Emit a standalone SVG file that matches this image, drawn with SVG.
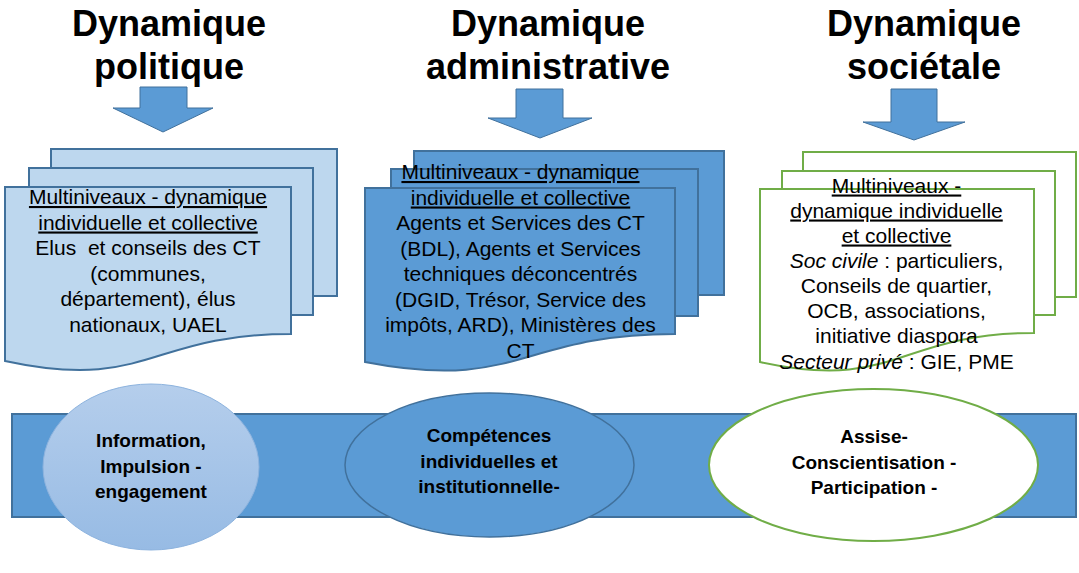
<svg xmlns="http://www.w3.org/2000/svg" width="1079" height="573" viewBox="0 0 1079 573">
<defs>
<linearGradient id="g1" x1="0" y1="0" x2="0" y2="1">
<stop offset="0" stop-color="#B5CEEC"/>
<stop offset="1" stop-color="#97BBE4"/>
</linearGradient>
<style>
.title{font-family:"Liberation Sans",Arial,sans-serif;font-weight:bold;font-size:36px;fill:#000;text-anchor:middle}
.doc{font-family:"Liberation Sans",Arial,sans-serif;font-size:21px;fill:#000;text-anchor:middle;white-space:pre}
.u{text-decoration:underline}
.ell{font-family:"Liberation Sans",Arial,sans-serif;font-weight:bold;font-size:19px;fill:#000;text-anchor:middle}
.blue1{fill:#BDD7EE;stroke:#41719C;stroke-width:2}
.blue2{fill:#5B9BD5;stroke:#41719C;stroke-width:2}
.green{fill:#FFFFFF;stroke:#70AD47;stroke-width:2}
.arrow{fill:#5B9BD5;stroke:#41719C;stroke-width:1}
</style>
</defs>
<rect width="1079" height="573" fill="#FFFFFF"/>

<g id="title-politique">
<text class="title" x="169" y="36">Dynamique</text>
<text class="title" x="169" y="79">politique</text>
</g>
<g id="title-administrative">
<text class="title" x="548" y="36">Dynamique</text>
<text class="title" x="548" y="79">administrative</text>
</g>
<g id="title-societale">
<text class="title" x="924" y="36">Dynamique</text>
<text class="title" x="924" y="79">sociétale</text>
</g>

<g id="connectors">
<polygon class="arrow" points="140,87 187,87 187,108 213,108 163,132 113,108 140,108"/>
<polygon class="arrow" points="516,89 563,89 563,118 592,118 540,138 488,118 516,118"/>
<polygon class="arrow" points="891,89 937,89 937,122 965,122 914,140 863,122 891,122"/>
</g>

<g id="doc-politique">
<rect class="blue1" x="51" y="149" width="286" height="147"/>
<rect class="blue1" x="29" y="168" width="284" height="147"/>
<path class="blue1" d="M5,187 H291 V334 C148,334 148,392 5,361 Z"/>
<text class="doc u" x="148" y="204">Multiniveaux - dynamique</text>
<text class="doc u" x="148" y="229.5">individuelle et collective</text>
<text class="doc" x="148" y="255">Elus  et conseils des CT</text>
<text class="doc" x="148" y="280.5">(communes,</text>
<text class="doc" x="148" y="306">département), élus</text>
<text class="doc" x="148" y="331.5">nationaux, UAEL</text>
</g>

<g id="doc-administrative">
<rect class="blue2" x="414" y="151" width="310" height="144"/>
<rect class="blue2" x="391" y="169" width="307" height="147"/>
<path class="blue2" d="M365,188 H675 V334 C520,334 520,392 365,362 Z"/>
<text class="doc u" x="520.5" y="179">Multiniveaux - dynamique</text>
<text class="doc u" x="520.5" y="204.5">individuelle et collective</text>
<text class="doc" x="520.5" y="230">Agents et Services des CT</text>
<text class="doc" x="520.5" y="255.5">(BDL), Agents et Services</text>
<text class="doc" x="520.5" y="281">techniques déconcentrés</text>
<text class="doc" x="520.5" y="306.5">(DGID, Trésor, Service des</text>
<text class="doc" x="520.5" y="332">impôts, ARD), Ministères des</text>
<text class="doc" x="520.5" y="357.5">CT</text>
</g>

<g id="doc-societale">
<rect class="green" x="803" y="152" width="273" height="145"/>
<rect class="green" x="782" y="171" width="273" height="144"/>
<path class="green" d="M760,189 H1034 V333 C897,333 897,392 760,362 Z"/>
<text class="doc u" x="896.5" y="192.5">Multiniveaux -</text>
<text class="doc u" x="896.5" y="217.5">dynamique individuelle</text>
<text class="doc u" x="896.5" y="242.5">et collective</text>
<text class="doc" x="896.5" y="268"><tspan font-style="italic">Soc civile</tspan> : particuliers,</text>
<text class="doc" x="896.5" y="293">Conseils de quartier,</text>
<text class="doc" x="896.5" y="318">OCB, associations,</text>
<text class="doc" x="896.5" y="343">initiative diaspora</text>
<text class="doc" x="896.5" y="368.5"><tspan font-style="italic">Secteur privé</tspan> : GIE, PME</text>
</g>

<g id="band">
<rect x="12" y="414" width="1064" height="103" fill="#5B9BD5" stroke="#41719C" stroke-width="2"/>
</g>

<g id="ellipse-information">
<ellipse cx="151" cy="467" rx="108" ry="83" fill="url(#g1)" stroke="#8DB3DE" stroke-width="1"/>
<text class="ell" x="151" y="447">Information,</text>
<text class="ell" x="151" y="472.5">Impulsion -</text>
<text class="ell" x="151" y="498">engagement</text>
</g>

<g id="ellipse-competences">
<ellipse cx="489.5" cy="465" rx="144.5" ry="72" fill="#5B9BD5" stroke="#41719C" stroke-width="1.5"/>
<text class="ell" x="489" y="442">Compétences</text>
<text class="ell" x="489" y="467.5">individuelles et</text>
<text class="ell" x="489" y="493">institutionnelle-</text>
</g>

<g id="ellipse-assise">
<ellipse cx="873.5" cy="465" rx="164.5" ry="76" fill="#FFFFFF" stroke="#70AD47" stroke-width="2"/>
<text class="ell" x="874" y="443">Assise-</text>
<text class="ell" x="874" y="468.5">Conscientisation -</text>
<text class="ell" x="874" y="494">Participation -</text>
</g>
</svg>
